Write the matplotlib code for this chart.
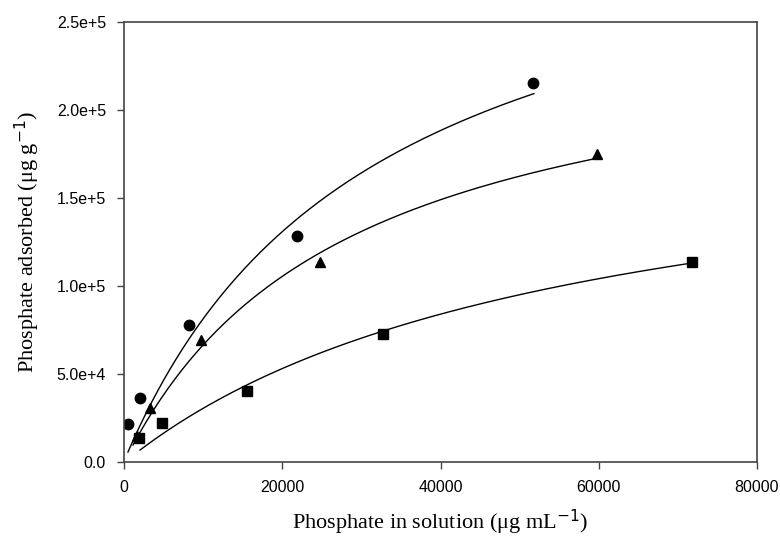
import numpy as np
import matplotlib
matplotlib.use('Agg')
import matplotlib.pyplot as plt
from matplotlib.ticker import FuncFormatter

# measured points (x: ug/mL in solution, y: ug/g adsorbed)
circle_x = [500, 2000, 8200, 21900, 51700]
circle_y = [21600, 36400, 77800, 128400, 215300]

triangle_x = [1600, 3300, 9700, 24800, 59800]
triangle_y = [14800, 30700, 69300, 113600, 175000]

square_x = [1900, 4800, 15500, 32700, 71800]
square_y = [13600, 22200, 40300, 72700, 113600]

# hyperbola fits y = y0 + a*x/(b+x)
circle_fit = [450, 336000, 31500]
triangle_fit = [-270, 253900, 28000]
square_fit = [-290, 200300, 55000]

# x range each curve is drawn over
circle_range = [500, 51800]
triangle_range = [1140, 59700]
square_range = [2020, 71150]

plt.rcParams['mathtext.fontset'] = 'custom'
plt.rcParams['mathtext.rm'] = 'Liberation Serif'
plt.rcParams['mathtext.it'] = 'Liberation Serif:italic'
plt.rcParams['mathtext.default'] = 'rm'


def hyper(x, p):
    y0, a, b = p
    return y0 + a * x / (b + x)


def sci_fmt(v, pos):
    if v == 0:
        return '0.0'
    e = int(np.floor(np.log10(abs(v))))
    return '%.1fe+%d' % (v / 10**e, e)


fig = plt.figure(figsize=(7.8, 5.41), dpi=100)
ax = fig.add_axes([0.159, 0.146, 0.8115, 0.813])

for xs, ys, fit, rng, mk in [(circle_x, circle_y, circle_fit, circle_range, 'o'),
                             (triangle_x, triangle_y, triangle_fit, triangle_range, '^'),
                             (square_x, square_y, square_fit, square_range, 's')]:
    xx = np.linspace(rng[0], rng[1], 200)
    ax.plot(xx, hyper(xx, fit), color='black', lw=1.0)
    ax.plot(xs, ys, linestyle='none', marker=mk, color='black', markersize=7.5)

ax.set_xlim(0, 80000)
ax.set_ylim(0, 250000)
ax.set_xticks([0, 20000, 40000, 60000, 80000])
ax.set_yticks([0, 50000, 100000, 150000, 200000, 250000])
ax.yaxis.set_major_formatter(FuncFormatter(sci_fmt))

for s in ax.spines.values():
    s.set_color('#444444')
    s.set_linewidth(1.2)
ax.tick_params(direction='out', length=5, width=1, color='#444444',
               labelsize=11.5, top=False, right=False, pad=8)
for lab in ax.get_xticklabels() + ax.get_yticklabels():
    lab.set_family('Liberation Sans')

ax.set_xlabel('Phosphate in solution (\u03bcg mL$^{\\mathsf{-1}}$)', family='Liberation Serif',
              fontsize=16, labelpad=9)
ax.set_ylabel('Phosphate adsorbed (\u03bcg g$^{\\mathsf{-1}}$)', family='Liberation Serif',
              fontsize=16, labelpad=11)

fig.savefig('out.png', dpi=100)
